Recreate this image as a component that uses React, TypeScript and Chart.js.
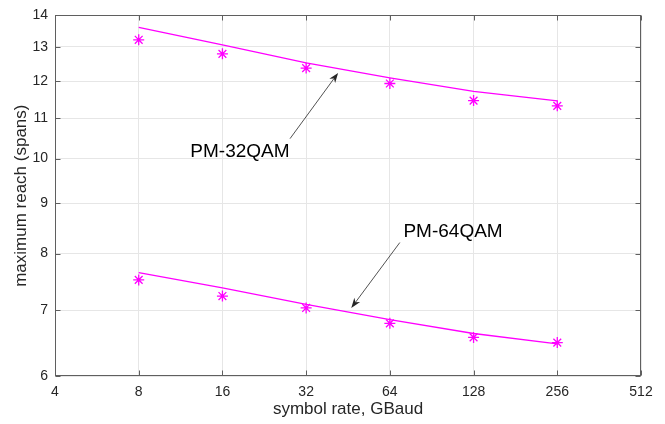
import React, { useEffect, useRef } from 'react';
import { Chart, registerables } from 'chart.js';

Chart.register(...registerables);

const symbolRates = [8, 16, 32, 64, 128, 256];
const qam32Measured = [13.22, 12.79, 12.37, 11.93, 11.46, 11.32];
const qam32Fit = [13.61, 13.06, 12.52, 12.09, 11.71, 11.45];
const qam64Measured = [7.52, 7.24, 7.04, 6.79, 6.57, 6.49];
const qam64Fit = [7.65, 7.38, 7.1, 6.85, 6.63, 6.47];

const xTickValues = [4, 8, 16, 32, 64, 128, 256, 512];
const yTickValues = [6, 7, 8, 9, 10, 11, 12, 13, 14];

const annotationLabels = ['PM-32QAM', 'PM-64QAM'];
const labelX = [18.5, 108];
const labelY = [10.15, 8.42];
const arrowFromX = [28.0, 69.5];
const arrowFromY = [10.48, 8.21];
const arrowToX = [41.7, 46.5];
const arrowToY = [12.23, 7.04];

const FONT = '"Liberation Sans", Arial, sans-serif';
const MAGENTA = '#ff00ff';

const framePlugin = {
  id: 'frameAndAnnotations',
  afterDatasetsDraw(chart: any) {
    const ctx = chart.ctx;
    const xs = chart.scales.x;
    const ys = chart.scales.y;
    ctx.save();
    for (let i = 0; i < annotationLabels.length; i++) {
      ctx.fillStyle = '#000000';
      ctx.font = `19px ${FONT}`;
      ctx.textAlign = 'center';
      ctx.textBaseline = 'middle';
      ctx.fillText(annotationLabels[i], xs.getPixelForValue(labelX[i]), ys.getPixelForValue(labelY[i]));
      const x0 = xs.getPixelForValue(arrowFromX[i]);
      const y0 = ys.getPixelForValue(arrowFromY[i]);
      const x1 = xs.getPixelForValue(arrowToX[i]);
      const y1 = ys.getPixelForValue(arrowToY[i]);
      const dx = x1 - x0;
      const dy = y1 - y0;
      const len = Math.hypot(dx, dy);
      const ux = dx / len;
      const uy = dy / len;
      const L = 10;
      const W = 3.6;
      ctx.strokeStyle = '#262626';
      ctx.lineWidth = 0.8;
      ctx.beginPath();
      ctx.moveTo(x0, y0);
      ctx.lineTo(x1 - ux * L * 0.7, y1 - uy * L * 0.7);
      ctx.stroke();
      ctx.fillStyle = '#262626';
      ctx.beginPath();
      ctx.moveTo(x1, y1);
      ctx.lineTo(x1 - ux * L - uy * W, y1 - uy * L + ux * W);
      ctx.lineTo(x1 - ux * L * 0.7, y1 - uy * L * 0.7);
      ctx.lineTo(x1 - ux * L + uy * W, y1 - uy * L - ux * W);
      ctx.closePath();
      ctx.fill();
    }
    ctx.restore();
  },
  afterDraw(chart: any) {
    const ctx = chart.ctx;
    const { left, right, top, bottom } = chart.chartArea;
    const xs = chart.scales.x;
    const ys = chart.scales.y;
    ctx.save();
    ctx.strokeStyle = '#5f5f5f';
    ctx.lineWidth = 1;
    const l = Math.round(left) + 0.5;
    const r = Math.round(right) - 0.5;
    const t = Math.round(top) + 0.5;
    const b = Math.round(bottom) - 0.5;
    ctx.strokeRect(l, t, r - l, b - t);
    const tl = 5;
    ctx.beginPath();
    xTickValues.forEach((v) => {
      const px = Math.round(xs.getPixelForValue(v)) + 0.5;
      ctx.moveTo(px, b);
      ctx.lineTo(px, b - tl);
      ctx.moveTo(px, t);
      ctx.lineTo(px, t + tl);
    });
    yTickValues.forEach((v) => {
      const py = Math.round(ys.getPixelForValue(v)) + 0.5;
      ctx.moveTo(l, py);
      ctx.lineTo(l + tl, py);
      ctx.moveTo(r, py);
      ctx.lineTo(r - tl, py);
    });
    ctx.stroke();
    ctx.restore();
  },
};

export default function App() {
  const canvasRef = useRef<HTMLCanvasElement | null>(null);

  useEffect(() => {
    if (!canvasRef.current) return;
    const toPts = (ys: number[]) => symbolRates.map((x, i) => ({ x, y: ys[i] }));
    const chart = new Chart(canvasRef.current, {
      type: 'scatter',
      data: {
        datasets: [
          {
            label: 'PM-32QAM fit',
            data: toPts(qam32Fit),
            showLine: true,
            borderColor: MAGENTA,
            borderWidth: 1.3,
            pointRadius: 0,
            fill: false,
          },
          {
            label: 'PM-64QAM fit',
            data: toPts(qam64Fit),
            showLine: true,
            borderColor: MAGENTA,
            borderWidth: 1.3,
            pointRadius: 0,
            fill: false,
          },
          {
            label: 'PM-32QAM',
            data: toPts(qam32Measured),
            showLine: false,
            pointStyle: 'star',
            pointRadius: 5.5,
            borderColor: MAGENTA,
            backgroundColor: MAGENTA,
            pointBorderWidth: 1.3,
          },
          {
            label: 'PM-64QAM',
            data: toPts(qam64Measured),
            showLine: false,
            pointStyle: 'star',
            pointRadius: 5.5,
            borderColor: MAGENTA,
            backgroundColor: MAGENTA,
            pointBorderWidth: 1.3,
          },
        ],
      },
      options: {
        animation: false,
        responsive: false,
        devicePixelRatio: 1,
        layout: { padding: { top: 13, right: 24, left: 0, bottom: 0 } },
        plugins: {
          legend: { display: false },
          tooltip: { enabled: false },
        },
        scales: {
          x: {
            type: 'logarithmic',
            min: 4,
            max: 512,
            afterBuildTicks: (s: any) => {
              s.ticks = xTickValues.map((v) => ({ value: v }));
            },
            afterFit: (s: any) => {
              s.height = 48;
            },
            ticks: {
              callback: (v: any) => String(v),
              color: '#262626',
              font: { family: FONT, size: 14 },
              padding: 8,
              maxRotation: 0,
              autoSkip: false,
            },
            grid: { color: '#e6e6e6', drawTicks: false, lineWidth: 1 },
            border: { display: false },
            title: {
              display: true,
              text: 'symbol rate, GBaud',
              color: '#262626',
              font: { family: FONT, size: 17 },
              padding: { top: 0, bottom: 4 },
            },
          },
          y: {
            type: 'logarithmic',
            min: 6,
            max: 14,
            afterBuildTicks: (s: any) => {
              s.ticks = yTickValues.map((v) => ({ value: v }));
            },
            afterFit: (s: any) => {
              s.width = 55;
            },
            ticks: {
              callback: (v: any) => String(v),
              color: '#262626',
              font: { family: FONT, size: 14 },
              padding: 7,
              autoSkip: false,
            },
            grid: { color: '#e6e6e6', drawTicks: false, lineWidth: 1 },
            border: { display: false },
            title: {
              display: true,
              text: 'maximum reach (spans)',
              color: '#262626',
              font: { family: FONT, size: 17 },
              padding: { top: 11, bottom: 0 },
            },
          },
        },
      },
      plugins: [framePlugin],
    } as any);
    return () => chart.destroy();
  }, []);

  return (
    <div style={{ position: 'absolute', left: 0, top: 0, width: 665, height: 424, background: '#ffffff' }}>
      <canvas ref={canvasRef} width={665} height={424} />
    </div>
  );
}
